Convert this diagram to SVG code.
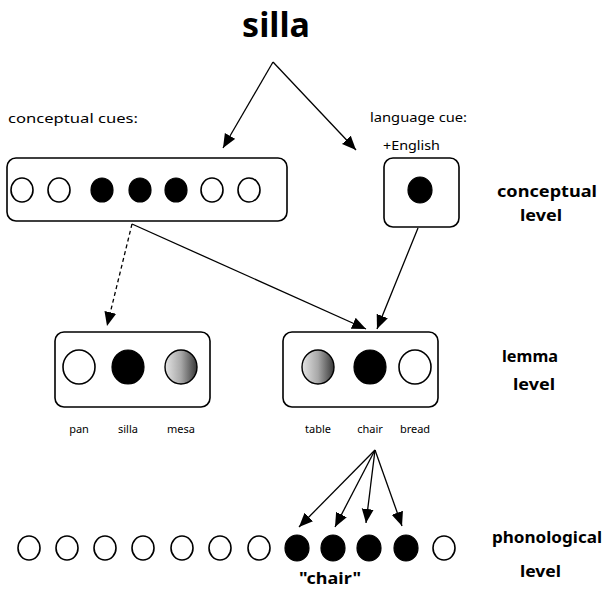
<svg xmlns="http://www.w3.org/2000/svg" width="604" height="594" viewBox="0 0 604 594">
<style>
.box{fill:#fff;stroke:#000;stroke-width:1.6}
.o{fill:#fff;stroke:#000;stroke-width:1.6}
.f{fill:#000;stroke:#000;stroke-width:1.2}
.g{fill:url(#grad);stroke:#000;stroke-width:1.4}
.ln{fill:none;stroke:#000;stroke-width:1.3}
.t{font-family:"Noto Sans","DejaVu Sans",sans-serif;fill:#000}
.sm{font-size:12px}
.xs{font-size:11px}
.lv{font-size:16px;font-weight:bold}
</style>
<defs>
<linearGradient id="grad" x1="0" y1="0" x2="1" y2="0">
<stop offset="0" stop-color="#e4e4e4"/>
<stop offset="0.5" stop-color="#a8a8a8"/>
<stop offset="1" stop-color="#383838"/>
</linearGradient>
<marker id="ah" markerUnits="userSpaceOnUse" markerWidth="16" markerHeight="14" refX="14" refY="6" orient="auto">
<path d="M0,0 L14,6 L0,12 Z" fill="#000"/>
</marker>
</defs>

<g id="title"><text class="t" x="276" y="37" font-size="34" font-weight="bold" text-anchor="middle">silla</text></g>

<g id="conceptual-cues">
<text class="t sm" x="8" y="123" textLength="130" lengthAdjust="spacingAndGlyphs">conceptual cues:</text>
<rect class="box" x="7" y="158" width="280" height="63" rx="9"/>
<ellipse class="o" cx="22" cy="190" rx="11" ry="12"/>
<ellipse class="o" cx="59" cy="190" rx="11" ry="12"/>
<ellipse class="f" cx="102" cy="190" rx="11" ry="12"/>
<ellipse class="f" cx="140" cy="190" rx="11" ry="12"/>
<ellipse class="f" cx="176" cy="190" rx="11" ry="12"/>
<ellipse class="o" cx="212" cy="190" rx="11" ry="12"/>
<ellipse class="o" cx="249" cy="190" rx="11" ry="12"/>
</g>

<g id="language-cue">
<text class="t sm" x="370" y="122" textLength="97" lengthAdjust="spacingAndGlyphs">language cue:</text>
<text class="t sm" x="383" y="150" textLength="57" lengthAdjust="spacingAndGlyphs">+English</text>
<rect class="box" x="384" y="158" width="75" height="69" rx="9"/>
<ellipse class="f" cx="420" cy="190" rx="12" ry="13"/>
</g>

<g id="conceptual-level">
<text class="t lv" x="497" y="197" textLength="100" lengthAdjust="spacingAndGlyphs">conceptual</text>
<text class="t lv" x="520" y="221" textLength="42" lengthAdjust="spacingAndGlyphs">level</text>
</g>

<g id="lemma-spanish">
<rect class="box" x="55" y="332" width="155" height="75" rx="9"/>
<ellipse class="o" cx="79" cy="367" rx="16" ry="17"/>
<ellipse class="f" cx="128" cy="367" rx="16" ry="17"/>
<ellipse class="g" cx="181" cy="367" rx="16" ry="17"/>
<text class="t xs" x="79" y="433" text-anchor="middle">pan</text>
<text class="t xs" x="128" y="433" text-anchor="middle">silla</text>
<text class="t xs" x="181" y="433" text-anchor="middle">mesa</text>
</g>

<g id="lemma-english">
<rect class="box" x="283" y="332" width="155" height="75" rx="9"/>
<ellipse class="g" cx="318" cy="367" rx="16" ry="17"/>
<ellipse class="f" cx="370" cy="367" rx="16" ry="17"/>
<ellipse class="o" cx="415" cy="367" rx="16" ry="17"/>
<text class="t xs" x="318" y="433" text-anchor="middle">table</text>
<text class="t xs" x="370" y="433" text-anchor="middle">chair</text>
<text class="t xs" x="415" y="433" text-anchor="middle">bread</text>
</g>

<g id="lemma-level">
<text class="t lv" x="502" y="362" textLength="56" lengthAdjust="spacingAndGlyphs">lemma</text>
<text class="t lv" x="513" y="390" textLength="42" lengthAdjust="spacingAndGlyphs">level</text>
</g>

<g id="phonological">
<ellipse class="o" cx="29" cy="548" rx="11" ry="12"/>
<ellipse class="o" cx="67" cy="548" rx="11" ry="12"/>
<ellipse class="o" cx="105" cy="548" rx="11" ry="12"/>
<ellipse class="o" cx="143" cy="548" rx="11" ry="12"/>
<ellipse class="o" cx="182" cy="548" rx="11" ry="12"/>
<ellipse class="o" cx="220" cy="548" rx="11" ry="12"/>
<ellipse class="o" cx="259" cy="548" rx="11" ry="12"/>
<ellipse class="f" cx="297" cy="548" rx="12" ry="13"/>
<ellipse class="f" cx="333" cy="548" rx="12" ry="13"/>
<ellipse class="f" cx="369" cy="548" rx="12" ry="13"/>
<ellipse class="f" cx="406" cy="548" rx="12" ry="13"/>
<ellipse class="o" cx="444" cy="548" rx="11" ry="12"/>
<text class="t lv" x="299" y="584" textLength="62" lengthAdjust="spacingAndGlyphs">"chair"</text>
</g>

<g id="phonological-level">
<text class="t lv" x="492" y="543" textLength="110" lengthAdjust="spacingAndGlyphs">phonological</text>
<text class="t lv" x="520" y="577" textLength="41" lengthAdjust="spacingAndGlyphs">level</text>
</g>

<g id="connectors">
<line class="ln" x1="273" y1="62" x2="223" y2="148" marker-end="url(#ah)"/>
<line class="ln" x1="273" y1="62" x2="356" y2="150" marker-end="url(#ah)"/>
<line class="ln" x1="132" y1="224" x2="107" y2="326" stroke-dasharray="4,3" marker-end="url(#ah)"/>
<line class="ln" x1="132" y1="224" x2="366" y2="329" marker-end="url(#ah)"/>
<line class="ln" x1="418" y1="228" x2="377" y2="329" marker-end="url(#ah)"/>
<line class="ln" x1="375" y1="450" x2="299" y2="527" marker-end="url(#ah)"/>
<line class="ln" x1="375" y1="450" x2="335" y2="527" marker-end="url(#ah)"/>
<line class="ln" x1="375" y1="450" x2="366" y2="523" marker-end="url(#ah)"/>
<line class="ln" x1="375" y1="450" x2="402" y2="526" marker-end="url(#ah)"/>
</g>
</svg>
